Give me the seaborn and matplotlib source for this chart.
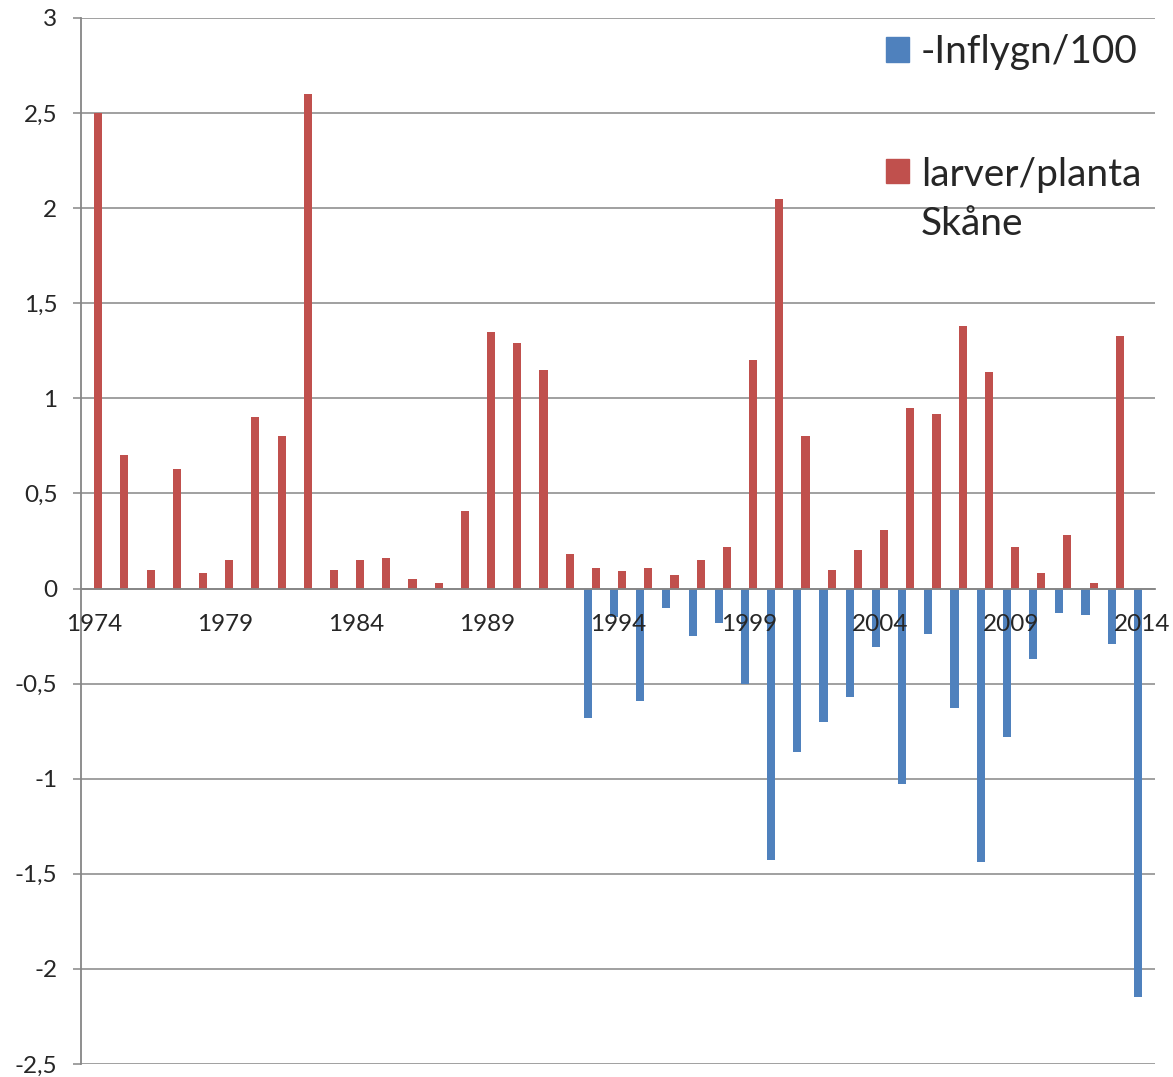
import numpy as np
import pandas as pd
import matplotlib.pyplot as plt
import seaborn as sns
from matplotlib.patches import Patch, Rectangle
from matplotlib.legend_handler import HandlerPatch
from matplotlib.ticker import FuncFormatter, MultipleLocator

# data
years = [str(y) for y in range(1974, 2015)]
larver_planta = [2.5, 0.7, 0.1, 0.63, 0.08, 0.15, 0.9, 0.8, 2.6, 0.1,
                 0.15, 0.16, 0.05, 0.03, 0.41, 1.35, 1.29, 1.15, 0.18, 0.11,
                 0.09, 0.11, 0.07, 0.15, 0.22, 1.2, 2.05, 0.8, 0.1, 0.2,
                 0.31, 0.95, 0.92, 1.38, 1.14, 0.22, 0.08, 0.28, 0.03, 1.33,
                 np.nan]
inflygn = [np.nan] * 19 + [-0.68, -0.15, -0.59, -0.10, -0.25, -0.18, -0.5,
                           -1.43, -0.86, -0.7, -0.57, -0.31, -1.03, -0.24,
                           -0.63, -1.44, -0.78, -0.37, -0.13, -0.14, -0.29,
                           -2.15]
series_names = ["-Inflygn/100", "larver/planta\nSkåne"]
label_years = years[::5]

BLUE = "#4F81BD"
RED = "#C0504D"
GRID = "#868686"

df = pd.concat([
    pd.DataFrame({"year": years, "value": inflygn, "series": series_names[0]}),
    pd.DataFrame({"year": years, "value": larver_planta, "series": series_names[1]}),
]).dropna()

sns.set_style("white")
plt.rcParams["font.family"] = ["Lato", "DejaVu Sans"]

fig = plt.figure(figsize=(11.73, 10.77), dpi=100)
ax = fig.add_axes([0.0691, 0.0121, 0.9156, 0.9712])

sns.barplot(data=df, x="year", y="value", hue="series", order=years,
            hue_order=series_names, palette=[BLUE, RED], width=0.62,
            saturation=1, errorbar=None, linewidth=0, legend=False, ax=ax)

ax.set_xlim(-0.5, len(years) - 0.5)
ax.set_ylim(-2.5, 3)
ax.yaxis.set_major_locator(MultipleLocator(0.5))
ax.yaxis.set_major_formatter(FuncFormatter(lambda v, p: f"{v:g}".replace(".", ",")))
# gridlines behind the bars, tick labels above them
for yv in ax.get_yticks():
    ax.axhline(yv, color=GRID, linewidth=1.1, zorder=0.5)
ax.set_axisbelow(False)
ax.set_xlabel("")
ax.set_ylabel("")

ax.set_xticks([years.index(y) for y in label_years])
ax.set_xticklabels(label_years)
ax.set_xticks(np.arange(-0.5, len(years), 1), minor=True)
ax.tick_params(axis="x", which="major", length=0, pad=18, labelsize=17.5)
ax.tick_params(axis="x", which="minor", length=6, width=1.1, color=GRID,
               direction="out")
ax.tick_params(axis="y", length=6, width=1.1, color=GRID, direction="out",
               pad=11, labelsize=17.5, left=True)

for side in ["top", "right"]:
    ax.spines[side].set_visible(False)
ax.spines["bottom"].set_position(("data", 0))
for side in ["left", "bottom"]:
    ax.spines[side].set_color(GRID)
    ax.spines[side].set_linewidth(1.3)


def top_line_square(legend, orig_handle, xdescent, ydescent, width, height, fontsize):
    # square next to the first line of a two-line label
    return Rectangle((-xdescent, -ydescent + 0.745 * fontsize), width, height)


handles = [Patch(color=BLUE, label=series_names[0]),
           Patch(color=RED, label=series_names[1])]
leg = ax.legend(handles=handles, loc="upper left",
                bbox_to_anchor=(886 / 1173, 1 - 34 / 1077),
                bbox_transform=fig.transFigure, frameon=False, fontsize=28,
                handlelength=0.6, handleheight=0.6, handletextpad=0.3,
                labelspacing=2.23, borderpad=0, borderaxespad=0,
                handler_map={handles[1]: HandlerPatch(patch_func=top_line_square)})
leg.get_texts()[1].set_linespacing(1.45)

fig.savefig("out.png", dpi=100)
